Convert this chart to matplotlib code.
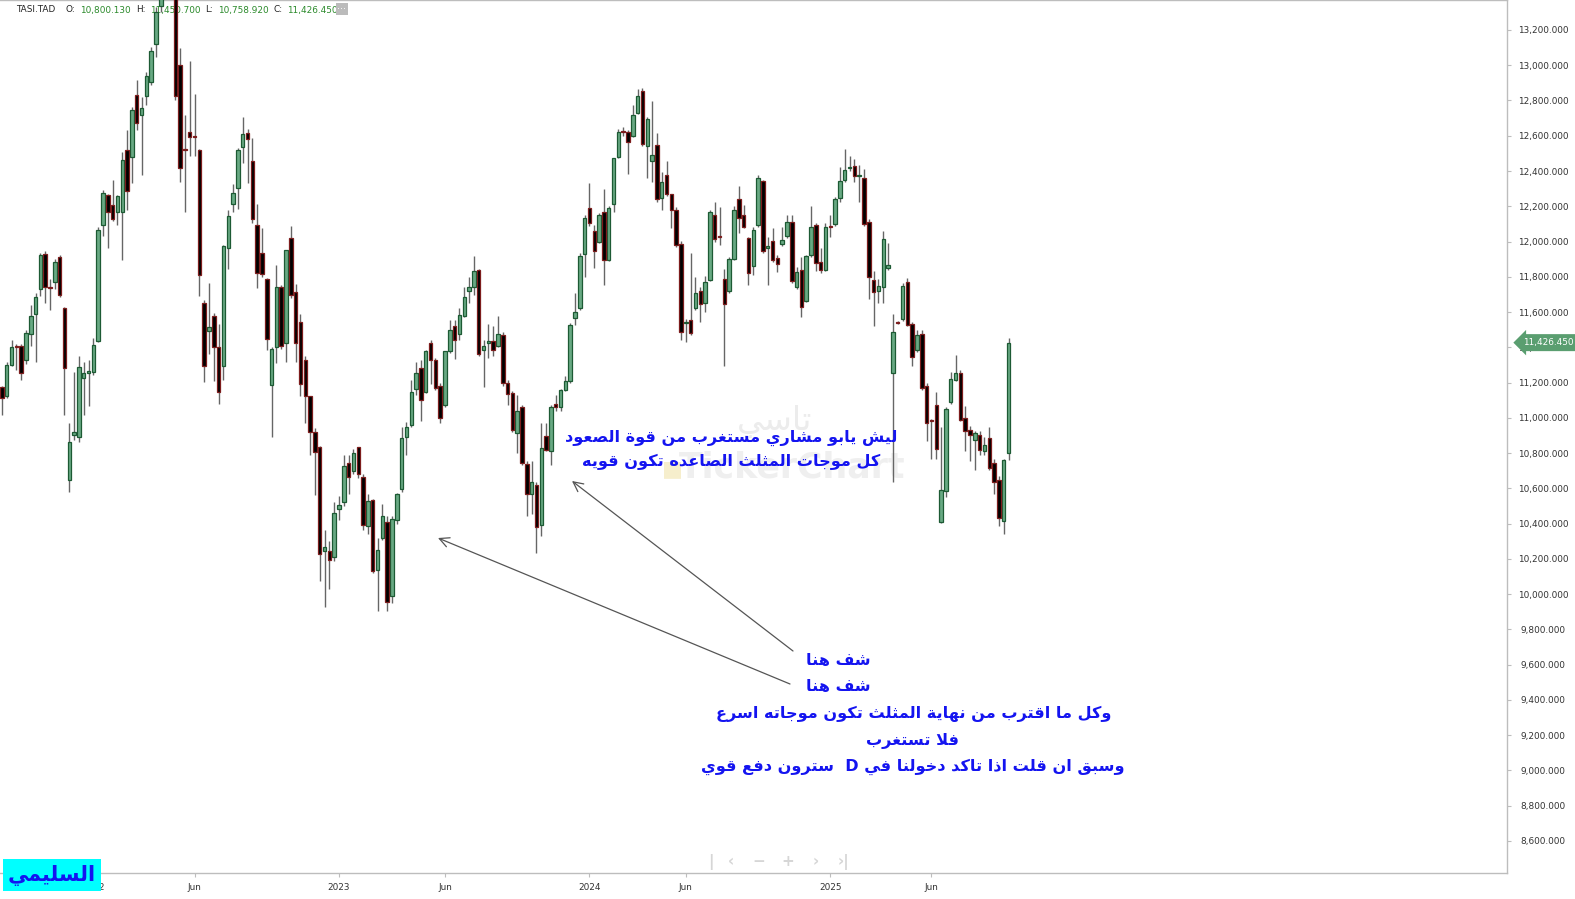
import numpy as np
import matplotlib
matplotlib.use("Agg")
import matplotlib.pyplot as plt
from matplotlib.transforms import blended_transform_factory

# weekly TASI candles, Aug 2021 -> Sep 2025
opens = [11172, 11123, 11302, 11408, 11405, 11327, 11475, 11587, 11731, 11932,
         11740, 11769, 11910, 11621, 10645, 10905, 10894, 11224, 11253, 11262,
         11435, 12092, 12262, 12206, 12166, 12166, 12518, 12482, 12830, 12715,
         12825, 12904, 13123, 13336, 13480, 13700, 13800, 13004, 12526, 12619,
         12598, 12518, 11650, 11495, 11576, 11401, 11293, 11966, 12211, 12302,
         12536, 12614, 12459, 12092, 11935, 11789, 11186, 11401, 11742, 11423,
         12018, 11713, 11542, 11327, 11123, 10919, 10833, 10246, 10246, 10212,
         10481, 10522, 10741, 10697, 10833, 10663, 10387, 10531, 10136, 10320,
         10407, 9988, 10418, 10596, 10894, 10957, 11161, 11282, 11145, 11423,
         11329, 11179, 11071, 11378, 11520, 11475, 11576, 11717, 11740, 11836,
         11387, 11423, 11437, 11405, 11468, 11195, 11138, 10912, 11060, 10739,
         10567, 10618, 10392, 10894, 10813, 11078, 11060, 11159, 11206, 11565,
         11621, 11928, 12188, 12058, 11995, 12166, 11897, 12211, 12482, 12628,
         12619, 12601, 12731, 12856, 12540, 12455, 12549, 12249, 12376, 12267,
         12181, 11984, 11536, 11553, 11625, 11722, 11654, 11784, 12152, 12031,
         11787, 11717, 11903, 12244, 12148, 12018, 11861, 12092, 12341, 11962,
         12002, 11906, 11984, 12029, 12112, 11740, 11840, 11665, 11921, 12092,
         11881, 11840, 12088, 12101, 12249, 12350, 12415, 12428, 12370, 12359,
         12110, 11784, 11717, 11740, 11852, 11257, 11545, 11558, 11773, 11531,
         11383, 11473, 11183, 10988, 11071, 10410, 10584, 11089, 11217, 11257,
         10999, 10932, 10874, 10903, 10813, 10887, 10741, 10645, 10414, 10800.13]
highs = [11183, 11318, 11441, 11419, 11419, 11497, 11639, 11710, 11935, 11944,
         11789, 11901, 11924, 11630, 10970, 11262, 11352, 11318, 11329, 11452,
         12080, 12290, 12271, 12350, 12265, 12507, 12630, 12764, 12915, 12821,
         12960, 13101, 13330, 13560, 13760, 13950, 13860, 13100, 12715, 13022,
         12839, 12525, 11666, 11767, 11594, 11531, 11980, 12181, 12327, 12529,
         12704, 12641, 12585, 12211, 12074, 11795, 11403, 11867, 11755, 11952,
         12087, 11760, 11591, 11352, 11125, 10941, 10840, 10365, 10302, 10522,
         10555, 10791, 10791, 10825, 10836, 10679, 10567, 10540, 10320, 10511,
         10443, 10443, 10571, 10948, 10975, 11217, 11318, 11329, 11385, 11441,
         11340, 11195, 11380, 11553, 11553, 11621, 11744, 11800, 11917, 11845,
         11441, 11531, 11520, 11576, 11486, 11217, 11150, 11127, 11071, 10757,
         10757, 10634, 10970, 10970, 11071, 11127, 11161, 11239, 11535, 11706,
         11935, 12148, 12332, 12092, 12159, 12300, 12204, 12473, 12641, 12652,
         12630, 12776, 12865, 12872, 12708, 12798, 12614, 12394, 12455, 12271,
         12193, 12002, 11560, 11935, 11800, 11744, 11805, 12181, 12222, 12193,
         11845, 11912, 12204, 12316, 12208, 12025, 12081, 12376, 12350, 12025,
         12074, 11924, 12081, 12148, 12152, 11856, 11912, 11924, 12204, 12103,
         11962, 12103, 12148, 12253, 12424, 12522, 12484, 12469, 12433, 12410,
         12125, 11834, 11789, 12058, 11991, 11587, 11549, 11767, 11794, 11542,
         11497, 11497, 11195, 10993, 11145, 10950, 11060, 11262, 11356, 11273,
         11065, 10952, 10925, 10925, 10892, 10948, 10768, 10668, 10768, 11450.70]
lows = [11015, 11115, 11295, 11273, 11217, 11307, 11408, 11316, 11692, 11654,
        11609, 11733, 11683, 11015, 10578, 10876, 10863, 11015, 11067, 11244,
        11430, 12029, 11962, 12114, 12092, 11894, 12177, 12332, 12630, 12376,
        12776, 12890, 13045, 13300, 13440, 13620, 12800, 12338, 12166, 12484,
        12484, 11692, 11201, 11363, 11206, 11078, 11217, 11845, 12170, 12186,
        12446, 12334, 12103, 11737, 11800, 11385, 10892, 11311, 11390, 11318,
        11680, 11318, 11123, 10970, 10791, 10560, 10073, 9927, 10028, 10185,
        10421, 10499, 10567, 10679, 10656, 10365, 10342, 10118, 9905, 10309,
        9905, 9950, 10398, 10580, 10791, 10950, 11127, 10981, 11140, 11190,
        11160, 10970, 11060, 11370, 11336, 11441, 11570, 11654, 11699, 11350,
        11172, 11340, 11352, 11400, 11180, 11071, 10920, 10802, 10730, 10443,
        10454, 10235, 10331, 10810, 10735, 11038, 11038, 11150, 11200, 11526,
        11610, 11800, 12090, 11850, 11990, 11755, 11890, 12166, 12475, 12600,
        12383, 12595, 12725, 12540, 12361, 12338, 12226, 12181, 12260, 12074,
        11970, 11441, 11430, 11470, 11610, 11542, 11598, 11775, 12000, 11980,
        11296, 11710, 11895, 12051, 12075, 11751, 11811, 12085, 11935, 11751,
        11885, 11827, 11975, 12020, 11765, 11730, 11571, 11655, 11915, 11834,
        11822, 11830, 12025, 12087, 12226, 12340, 12400, 12338, 12222, 12090,
        11672, 11520, 11654, 11654, 11840, 10634, 11531, 11550, 11520, 11296,
        11375, 11160, 10869, 10768, 10768, 10405, 10549, 11078, 11210, 10980,
        10813, 10757, 10706, 10791, 10791, 10705, 10567, 10387, 10342, 10758.92]
closes = [11112, 11302, 11401, 11402, 11255, 11479, 11576, 11683, 11921, 11740,
          11735, 11883, 11695, 11282, 10860, 10918, 11291, 11255, 11266, 11412,
          12065, 12278, 12166, 12128, 12258, 12462, 12285, 12744, 12670, 12758,
          12937, 13078, 13303, 13480, 13700, 13820, 12825, 12417, 12518, 12592,
          12594, 11811, 11293, 11513, 11401, 11145, 11975, 12143, 12278, 12518,
          12608, 12581, 12128, 11822, 11816, 11448, 11390, 11742, 11405, 11950,
          11697, 11423, 11190, 11123, 10919, 10807, 10226, 10266, 10194, 10459,
          10508, 10724, 10663, 10798, 10679, 10392, 10526, 10129, 10253, 10441,
          9954, 10425, 10567, 10885, 10948, 11145, 11253, 11100, 11378, 11327,
          11168, 10997, 11378, 11497, 11441, 11583, 11688, 11740, 11831, 11360,
          11405, 11437, 11387, 11475, 11195, 11134, 10930, 11038, 10741, 10567,
          10634, 10383, 10831, 10820, 11064, 11060, 11159, 11206, 11526, 11603,
          11917, 12132, 12103, 11946, 12148, 11897, 12188, 12471, 12619, 12619,
          12563, 12715, 12823, 12551, 12693, 12489, 12242, 12338, 12267, 12181,
          11980, 11486, 11542, 11479, 11710, 11643, 11773, 12170, 12013, 12027,
          11648, 11899, 12181, 12132, 12085, 11822, 12063, 12359, 11946, 11977,
          11894, 11872, 12007, 12112, 11775, 11827, 11630, 11917, 12085, 11876,
          11840, 12085, 12083, 12242, 12343, 12406, 12421, 12370, 12375, 12098,
          11798, 11715, 11746, 12013, 11865, 11486, 11540, 11749, 11527, 11345,
          11468, 11168, 10970, 10984, 10822, 10589, 11049, 11221, 11257, 10988,
          10925, 10903, 10914, 10818, 10845, 10715, 10638, 10432, 10762, 11426.45]

tick_pos = [19, 40, 70, 92, 122, 142, 172, 193]
tick_labels = ["2022", "Jun", "2023", "Jun", "2024", "Jun", "2025", "Jun"]
y_ticks = list(range(8600, 13201, 200))

W, H = 1575, 899

# --- tiny arabic shaper (presentation forms + RTL order) ---
AR_FORMS = {
    'ء': (0xFE80, 1), 'آ': (0xFE81, 2), 'أ': (0xFE83, 2), 'ؤ': (0xFE85, 2),
    'إ': (0xFE87, 2), 'ئ': (0xFE89, 4), 'ا': (0xFE8D, 2), 'ب': (0xFE8F, 4),
    'ة': (0xFE93, 2), 'ت': (0xFE95, 4), 'ث': (0xFE99, 4), 'ج': (0xFE9D, 4),
    'ح': (0xFEA1, 4), 'خ': (0xFEA5, 4), 'د': (0xFEA9, 2), 'ذ': (0xFEAB, 2),
    'ر': (0xFEAD, 2), 'ز': (0xFEAF, 2), 'س': (0xFEB1, 4), 'ش': (0xFEB5, 4),
    'ص': (0xFEB9, 4), 'ض': (0xFEBD, 4), 'ط': (0xFEC1, 4), 'ظ': (0xFEC5, 4),
    'ع': (0xFEC9, 4), 'غ': (0xFECD, 4), 'ف': (0xFED1, 4), 'ق': (0xFED5, 4),
    'ك': (0xFED9, 4), 'ل': (0xFEDD, 4), 'م': (0xFEE1, 4), 'ن': (0xFEE5, 4),
    'ه': (0xFEE9, 4), 'و': (0xFEED, 2), 'ى': (0xFEEF, 2), 'ي': (0xFEF1, 4),
}
LAM_ALEF = {'ا': 0xFEFB, 'أ': 0xFEF7, 'إ': 0xFEF9, 'آ': 0xFEF5}


def shape(text):
    out = []
    prev = None
    i = 0
    n = len(text)
    while i < n:
        c = text[i]
        if c not in AR_FORMS:
            out.append(c)
            prev = None
            i += 1
            continue
        p = prev is not None and AR_FORMS[prev][1] == 4
        if c == 'ل' and i + 1 < n and text[i + 1] in LAM_ALEF:
            out.append(chr(LAM_ALEF[text[i + 1]] + (1 if p else 0)))
            prev = 'ا'
            i += 2
            continue
        base, k = AR_FORMS[c]
        nx = text[i + 1] if i + 1 < n else None
        q = k == 4 and nx in AR_FORMS and AR_FORMS[nx][1] >= 2
        if k == 1:
            f = base
        elif p and q:
            f = base + 3
        elif p:
            f = base + 1
        elif q:
            f = base + 2
        else:
            f = base
        out.append(chr(f))
        prev = c
        i += 1
    return ''.join(reversed(out))


def fx(px):
    return px / W


def fy(py):
    return 1 - py / H


fig = plt.figure(figsize=(W / 100, H / 100), dpi=100)
fig.patch.set_facecolor("white")
ax = fig.add_axes([0, fy(873), fx(1507), 873 / H])
ax.set_facecolor("white")

o = np.array(opens)
hi = np.array(highs)
lo = np.array(lows)
c = np.array(closes)
x = np.arange(len(o))
up = c >= o

UP_FILL, UP_EDGE = "#68a983", "#1d5a34"
DN_FILL, DN_EDGE = "#000000", "#7d1d1d"

ax.vlines(x, lo, hi, color="#666666", linewidth=1.0, zorder=2)
ax.bar(x[up], np.maximum(c[up] - o[up], 4), bottom=o[up], width=0.72,
       color=UP_FILL, edgecolor=UP_EDGE, linewidth=0.9, zorder=3)
ax.bar(x[~up], np.maximum(o[~up] - c[~up], 4), bottom=c[~up], width=0.72,
       color=DN_FILL, edgecolor=DN_EDGE, linewidth=0.9, zorder=3)

ax.set_xlim(-0.39, 312.5)
ax.set_ylim(8418, 13370)

# axes look
ax.spines["left"].set_visible(False)
for s in ["top", "right", "bottom"]:
    ax.spines[s].set_color("#bdbdbd")
    ax.spines[s].set_linewidth(1.0)

ax.yaxis.tick_right()
ax.set_yticks(y_ticks)
ax.set_yticklabels([f"{v:,.3f}" for v in y_ticks])
ax.tick_params(axis="y", length=3, pad=23, labelsize=6.4, colors="#bdbdbd",
               labelcolor="#333333")
for lab in ax.get_yticklabels():
    lab.set_horizontalalignment("center")

ax.set_xticks(tick_pos)
ax.set_xticklabels(tick_labels)
ax.tick_params(axis="x", length=3, pad=4, labelsize=6.4, colors="#bdbdbd",
               labelcolor="#333333")

# last price tag
tr = blended_transform_factory(ax.transAxes, ax.transData)
ax.text(1.0 + 16 / 1507, closes[-1], f"{closes[-1]:,.3f}", transform=tr,
        ha="left", va="center", fontsize=6.4, color="white", clip_on=False, zorder=10,
        bbox=dict(boxstyle="larrow,pad=0.45", fc="#5a9e70", ec="none"))

# header
hdr = [(16, "TASI.TAD", "#222222"), (65, "O:", "#222222"), (80, "10,800.130", "#2b8a2b"),
       (136, "H:", "#222222"), (150, "11,450.700", "#2b8a2b"), (205, "L:", "#222222"),
       (218, "10,758.920", "#2b8a2b"), (274, "C:", "#222222"), (287, "11,426.450", "#2b8a2b")]
for px, s, col in hdr:
    ax.text(fx(px), fy(10), s, transform=fig.transFigure, fontsize=6.4, color=col,
            ha="left", va="center", zorder=1)
ax.text(fx(342), fy(9), "···", transform=fig.transFigure, fontsize=7, color="white",
        ha="center", va="center", zorder=1,
        bbox=dict(boxstyle="square,pad=0.15", fc="#bbbbbb", ec="none"))

# watermark
ax.text(fx(775), fy(422), shape("تاسي"), transform=fig.transFigure, fontsize=24,
        color="#ececec", ha="center", va="center", zorder=0.5)
ax.text(fx(792), fy(468), "TickerChart", transform=fig.transFigure, fontsize=25,
        fontweight="bold", color="#efefef", ha="center", va="center", zorder=0.5)
ax.text(fx(672), fy(469), "\u25a0", transform=fig.transFigure, fontsize=16,
        color="#f6eecc", ha="center", va="center", zorder=0.5)

# annotations
BLUE = "#1414f0"
AFS = 11.6
notes = [
    (731, 438, "ليش يابو مشاري مستغرب من قوة الصعود"),
    (731, 462, "كل موجات المثلث الصاعده تكون قويه"),
    (838, 660, "شف هنا"),
    (838, 687, "شف هنا"),
    (914, 714, "وكل ما اقترب من نهاية المثلث تكون موجاته اسرع"),
    (913, 741, "فلا تستغرب"),
    (913, 767, "وسبق ان قلت اذا تاكد دخولنا في D  سترون دفع قوي"),
]
for px, py, s in notes:
    ax.text(fx(px), fy(py), shape(s), transform=fig.transFigure, fontsize=AFS,
            fontweight="bold", color=BLUE, ha="center", va="center", zorder=6)

arrow_kw = dict(arrowstyle="->,head_length=0.7,head_width=0.35", color="#555555",
                lw=0.9, shrinkA=0, shrinkB=0)
ax.annotate("", xy=(fx(572), fy(481)), xytext=(fx(793), fy(651)),
            xycoords="figure fraction", textcoords="figure fraction", arrowprops=arrow_kw)
ax.annotate("", xy=(fx(438), fy(538)), xytext=(fx(790), fy(684)),
            xycoords="figure fraction", textcoords="figure fraction", arrowprops=arrow_kw)

# navigation controls
for px, s in [(711, "|"), (731, "\u2039"), (759, "\u2212"), (788, "+"), (816, "\u203a"), (844, "\u203a|")]:
    ax.text(fx(px), fy(862), s, transform=fig.transFigure, fontsize=11, fontweight="bold",
            color="#d6d6d6", ha="center", va="center", zorder=1)

# bottom-left label
fig.text(fx(52), fy(875), shape("السليمي"), fontsize=15, fontweight="bold", color=BLUE,
         ha="center", va="center",
         bbox=dict(boxstyle="square,pad=0.25", fc="#00ffff", ec="none"))

fig.savefig("out.png", dpi=100, facecolor="white")
